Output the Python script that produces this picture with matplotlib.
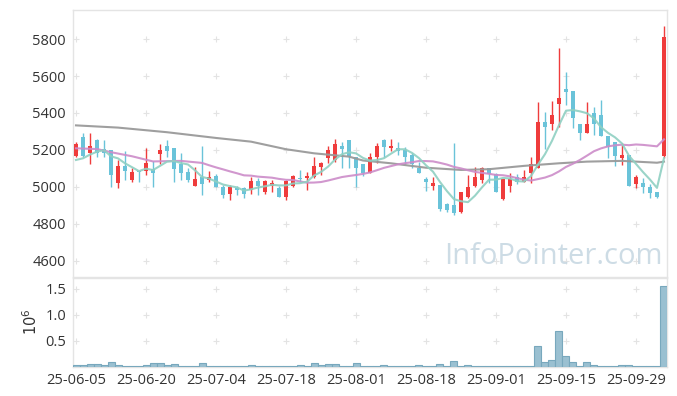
import numpy as np
import pandas as pd
import matplotlib
matplotlib.use("Agg")
import matplotlib.pyplot as plt

plt.rcParams['font.family'] = ['Open Sans', 'DejaVu Sans']

# ---- data ----
opens = [5169, 5270, 5182, 5254, 5204, 5200, 5020, 5114, 5038, 5085,
         5088, 5096, 5178, 5223, 5211, 5124, 5081, 5007, 5056, 5038,
         5059, 5000, 4964, 4996, 4995, 4982, 5033, 4975, 5006, 4996,
         4948, 5007, 5047, 5051, 5052, 5106, 5155, 5146, 5222, 5254,
         5160, 5123, 5077, 5160, 5254, 5209, 5209, 5200, 5173, 5101,
         5043, 5007, 5011, 4908, 4903, 4867, 4948, 5006, 5038, 5101,
         5068, 4933, 5007, 5056, 5029, 5077, 5101, 5350, 5339, 5447,
         5528, 5519, 5339, 5290, 5398, 5389, 5277, 5241, 5158, 5173,
         5016, 5020, 5002, 4971, 5168]
highs = [5242, 5290, 5290, 5262, 5256, 5202, 5146, 5196, 5101, 5087,
         5209, 5138, 5232, 5254, 5211, 5182, 5101, 5110, 5222, 5088,
         5070, 5011, 5011, 5007, 5002, 5056, 5047, 5035, 5038, 5007,
         5038, 5065, 5090, 5083, 5160, 5137, 5224, 5260, 5241, 5254,
         5160, 5123, 5182, 5236, 5258, 5258, 5241, 5218, 5182, 5137,
         5056, 5052, 5011, 4915, 5240, 4975, 5065, 5110, 5106, 5105,
         5074, 5043, 5077, 5070, 5092, 5164, 5461, 5407, 5467, 5750,
         5620, 5519, 5339, 5458, 5434, 5470, 5277, 5241, 5236, 5173,
         5063, 5047, 5016, 4971, 5870]
lows = [5162, 5164, 5123, 5160, 5164, 5000, 4992, 5038, 5029, 5029,
        5065, 4998, 5124, 5161, 5029, 5038, 5025, 5005, 4957, 5029,
        4998, 4942, 4930, 4957, 4942, 4960, 4957, 4960, 4975, 4946,
        4930, 5002, 5029, 4984, 5047, 5065, 5128, 5137, 5101, 5101,
        5002, 5059, 5077, 5128, 5164, 5196, 5173, 5123, 5101, 5074,
        4980, 4984, 4870, 4867, 4849, 4858, 4939, 5002, 5020, 5020,
        4971, 4930, 4975, 5016, 5029, 5020, 5100, 5205, 5308, 5326,
        5443, 5317, 5254, 5290, 5281, 5277, 5155, 5115, 5119, 5007,
        4993, 4966, 4939, 4939, 5155]
closes = [5232, 5169, 5222, 5186, 5186, 5065, 5114, 5088, 5081, 5080,
          5131, 5077, 5200, 5196, 5097, 5077, 5038, 5043, 5016, 5052,
          4998, 4957, 5000, 4982, 4964, 5033, 5006, 5033, 5022, 4948,
          5033, 5058, 5041, 5061, 5114, 5132, 5200, 5233, 5206, 5168,
          5101, 5077, 5160, 5222, 5218, 5223, 5196, 5160, 5124, 5077,
          5029, 5023, 4881, 4876, 4861, 4973, 4998, 5056, 5101, 5068,
          4975, 5043, 5043, 5029, 5056, 5123, 5353, 5326, 5389, 5479,
          5515, 5371, 5290, 5339, 5339, 5277, 5218, 5169, 5173, 5007,
          5056, 4998, 4966, 4948, 5813]
# volume in millions of shares
volume = [0.045, 0.045, 0.064, 0.064, 0.045, 0.103, 0.045, 0.026, 0.026, 0.026,
          0.045, 0.083, 0.083, 0.045, 0.064, 0.026, 0.026, 0.026, 0.083, 0.026,
          0.026, 0.012, 0.026, 0.026, 0.012, 0.045, 0.026, 0.012, 0.026, 0.026,
          0.026, 0.012, 0.045, 0.012, 0.083, 0.045, 0.064, 0.064, 0.026, 0.026,
          0.083, 0.012, 0.026, 0.026, 0.045, 0.026, 0.012, 0.012, 0.026, 0.045,
          0.026, 0.026, 0.064, 0.012, 0.109, 0.026, 0.045, 0.026, 0.026, 0.012,
          0.026, 0.026, 0.012, 0.026, 0.012, 0.026, 0.410, 0.090, 0.141, 0.699,
          0.218, 0.090, 0.026, 0.090, 0.045, 0.026, 0.026, 0.026, 0.045, 0.045,
          0.012, 0.026, 0.026, 0.012, 1.551]

# moving-average values that need history before the window
ma5_head = [5146, 5155, 5175, 5191]
ma20_head_idx = [0, 3, 5, 8, 11, 15, 18]
ma20_head_val = [5209, 5205, 5188, 5166, 5138, 5141, 5130]
ma60_idx = [0, 6, 13, 20, 25, 30, 34, 39, 41, 45, 50, 55, 59, 64, 69, 73, 78, 83, 84]
ma60_val = [5333, 5321, 5296, 5265, 5245, 5204, 5182, 5164, 5143, 5128, 5104, 5092,
            5096, 5114, 5128, 5137, 5141, 5131, 5137]

tick_idx = [0, 10, 20, 30, 40, 50, 60, 70, 80]
tick_labels = ['25-06-05', '25-06-20', '25-07-04', '25-07-18', '25-08-01',
               '25-08-18', '25-09-01', '25-09-15', '25-09-29']
price_ticks = [4600, 4800, 5000, 5200, 5400, 5600, 5800]
vol_ticks = [0.5, 1.0, 1.5]

# ---- styling ----
RED = '#ef3c3c'
BLUE = '#6ac3d9'
GREEN = '#8fd0c2'
PINK = '#cc8cc9'
GRAY = '#9a9a9a'
SPINE = '#e4e4e4'
TXT = '#333333'

o = np.array(opens, float); h = np.array(highs, float)
l = np.array(lows, float); c = np.array(closes, float)
n = len(c)
x = np.arange(n)

s = pd.Series(c)
ma5 = s.rolling(5).mean().to_numpy()
ma20 = s.rolling(20).mean().to_numpy()

fig = plt.figure(figsize=(6.77, 3.96), dpi=100)
W, H = 677, 396
ax = fig.add_axes([73 / W, 1 - 277 / H, 594 / W, 267 / H])
axv = fig.add_axes([73 / W, 1 - 367 / H, 594 / W, 89 / H], sharex=ax)

up = c >= o
cols = np.where(up, RED, BLUE)
ax.vlines(x, l, h, colors=cols, lw=1.0, zorder=2)
body = np.maximum(np.abs(c - o), 2.0)
ax.bar(x, body, bottom=np.minimum(o, c), width=0.62, color=cols, zorder=3, linewidth=0)

# moving averages
ax.plot(ma60_idx, ma60_val, color=GRAY, lw=1.5, zorder=4, alpha=0.95)
ax.plot(ma20_head_idx + list(x[19:]), ma20_head_val + list(ma20[19:]),
        color=PINK, lw=1.5, zorder=4, alpha=0.9)
ax.plot(list(x), ma5_head + list(ma5[4:]), color=GREEN, lw=1.5, zorder=4, alpha=0.9)

ax.set_xlim(-0.43, n - 1 + 0.43)
ax.set_ylim(4513, 5957)
ax.set_yticks(price_ticks)
ax.set_yticklabels([str(v) for v in price_ticks])
ax.tick_params(axis='y', length=0, pad=5, labelsize=10.5, labelcolor=TXT)
ax.tick_params(axis='x', length=0, labelbottom=False)

# cross-shaped grid markers
gx, gy = np.meshgrid(tick_idx, price_ticks)
ax.scatter(gx.ravel(), gy.ravel(), marker='+', s=20, color='#e3e3e3', lw=0.8, zorder=1)

ax.text(0.808, 0.075, 'InfoPointer.com', transform=ax.transAxes, ha='center', va='center',
        fontsize=21, color='#c5d6e1', alpha=0.85, zorder=5)

# volume
axv.bar(x, volume, width=1.0, color='#9ac0d1', edgecolor='#78a8bd', linewidth=0.8, zorder=3)
axv.set_ylim(0, 1.711)
axv.set_yticks(vol_ticks)
axv.set_yticklabels(['0.5', '1.0', '1.5'])
axv.set_xticks(tick_idx)
axv.set_xticklabels(tick_labels)
axv.tick_params(axis='both', length=0, labelsize=10.5, labelcolor=TXT)
axv.tick_params(axis='y', pad=5)
axv.tick_params(axis='x', pad=4)
vx, vy = np.meshgrid(tick_idx, vol_ticks)
axv.scatter(vx.ravel(), vy.ravel(), marker='+', s=20, color='#e3e3e3', lw=0.8, zorder=1)
fig.text(32 / W, 1 - 322 / H, r'$10^6$', rotation=90, ha='center', va='center',
         fontsize=10.5, color=TXT)

for a in (ax, axv):
    for sp in a.spines.values():
        sp.set_color(SPINE)
        sp.set_linewidth(1.0)

fig.savefig('out.png', dpi=100)
